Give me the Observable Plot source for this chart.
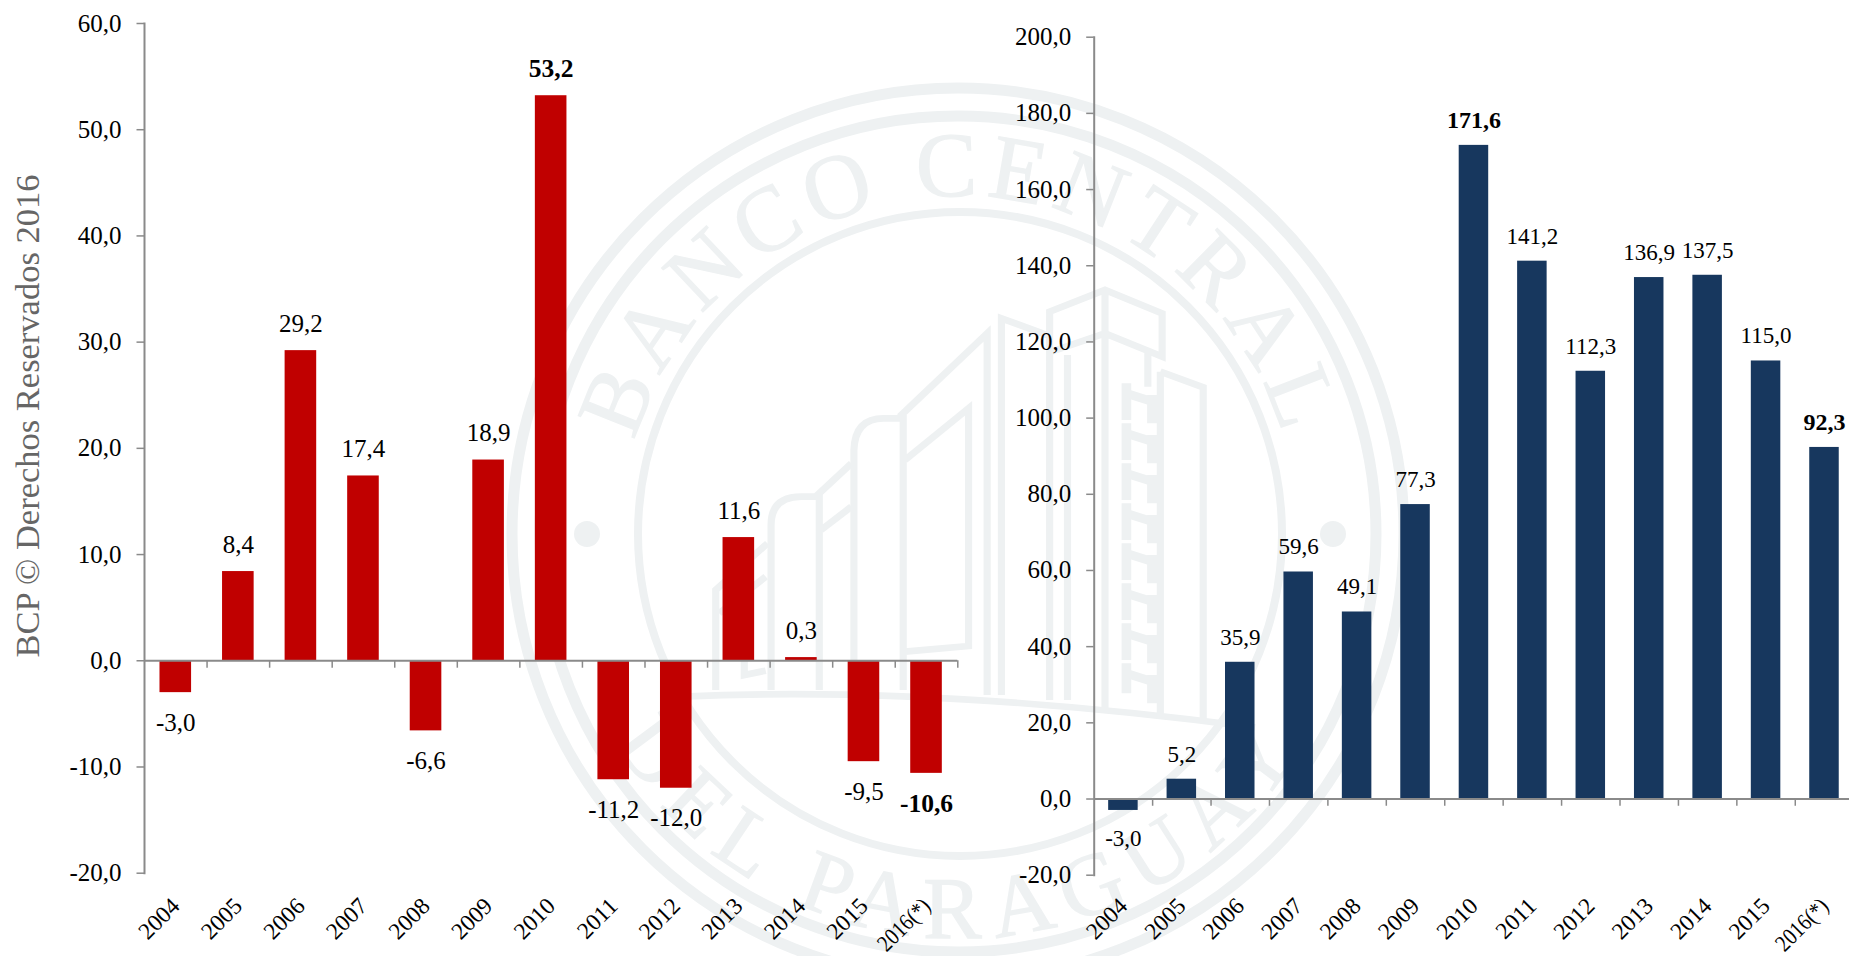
<!DOCTYPE html>
<html><head><meta charset="utf-8">
<script src="https://cdn.jsdelivr.net/npm/d3@7"></script>
<script src="https://cdn.jsdelivr.net/npm/@observablehq/plot@0.6"></script>
<style>
html,body{margin:0;padding:0;background:#fff;overflow:hidden}
#stage{position:relative;width:1849px;height:956px;overflow:hidden;font-family:"Liberation Serif",serif}
#stage svg{position:absolute;top:0}
#credit{position:absolute;left:27px;top:416px;transform:translate(-50%,-50%) rotate(-90deg);white-space:nowrap;font-size:34.5px;color:#666}
</style></head><body>
<div id="stage">
<svg id="seal" width="1849" height="956" style="left:0">
  <defs>
    <path id="arcTop" d="M 622 534 A 338 338 0 0 1 1298 534"/>
    <path id="arcBot" d="M 556 534 A 404 404 0 0 0 1364 534"/>
  </defs>
  <g fill="none" stroke="#eef1f2">
    <circle cx="958" cy="534" r="446" stroke-width="11"/>
    <circle cx="958" cy="534" r="418" stroke-width="11"/>
    <circle cx="960" cy="534" r="322" stroke-width="8"/>
  </g>
  <g fill="#eef1f2">
    <circle cx="587" cy="534" r="13"/><circle cx="1333" cy="534" r="13"/>
    <g stroke="#eef1f2" stroke-width="1.2">
      <text font-size="92" letter-spacing="8" text-anchor="middle"><textPath href="#arcTop" startOffset="50%">BANCO CENTRAL</textPath></text>
      <text font-size="88" letter-spacing="14" text-anchor="middle"><textPath href="#arcBot" startOffset="50%">DEL PARAGUAY</textPath></text>
    </g>
  </g>
  <g id="bld" transform="translate(680,280) scale(0.35714,0.33333)" fill="none" stroke="#eef1f2" stroke-width="20">
    <path d="M6 1250 Q700 1215 1610 1342"/>
    <path d="M100 1230V930L245 790M110 1000L240 890M180 1135V1185L240 1172"/>
    <path d="M255 1230V735Q255 650 340 650H390V1230M380 650L480 550M395 750L480 680"/>
    <path d="M487 1230V510Q490 415 570 415H625V1230M615 410L860 160V1245M630 540L808 385V1098L630 1115"/>
    <path d="M900 1245V115L1040 170M1035 1260V95L1190 30L1350 100V230L1190 160L1040 215M1085 225V1260M1190 30V1290M1310 215V320"/>
    <path d="M1345 275L1465 322V1320M1345 275V1310"/>
    <path stroke-width="27" stroke-dasharray="110 10" d="M1250 310V1240"/>
    <path stroke-width="30" stroke-dasharray="85 35" d="M1323 345V1290"/>
    <path stroke-width="26" d="M1250 340L1323 365M1250 460L1323 485M1250 580L1323 605M1250 700L1323 725M1250 820L1323 845M1250 940L1323 965M1250 1060L1323 1085M1250 1180L1323 1205"/>
  </g>
</svg>
<div id="credit">BCP © Derechos Reservados 2016</div>
</div>
<script>
const years = ["2004","2005","2006","2007","2008","2009","2010","2011","2012","2013","2014","2015","2016(*)"];
const leftValues = [-3.0,8.4,29.2,17.4,-6.6,18.9,53.2,-11.2,-12.0,11.6,0.3,-9.5,-10.6];
const rightValues = [-3.0,5.2,35.9,59.6,49.1,77.3,171.6,141.2,112.3,136.9,137.5,115.0,92.3];
const leftTicks = [-20,-10,0,10,20,30,40,50,60];
const rightTicks = [-20,0,20,40,60,80,100,120,140,160,180,200];
const leftBold = ["2010","2016(*)"];
const rightBold = ["2010","2016(*)"];

const AXIS = "#8a8a8a";
const fmt = d => d.toFixed(1).replace(".", ",");

function chart({values, ticks, bold, color, domain, left, width, marginLeft, xEnd, top, bottom,
                labelSize, boldSize, labelAbove, labelBelow, tickData, xDy}) {
  const rows = years.map((y, i) => ({y, v: values[i]}));
  const step = (xEnd - marginLeft) / years.length;
  const labelOpts = {
    x: "y", y: "v", text: d => fmt(d.v), fill: "#000",
    textAnchor: "middle", lineAnchor: "middle"
  };
  const labelMark = (filter, weight, fontSize) => [
    Plot.text(rows.filter(d => d.v >= 0 && filter(d)), {...labelOpts, dy: -labelAbove, fontWeight: weight, fontSize}),
    Plot.text(rows.filter(d => d.v < 0 && filter(d)), {...labelOpts, dy: labelBelow, fontWeight: weight, fontSize})
  ];
  const svg = Plot.plot({
    width, height: 956, marginLeft, marginRight: width - Math.min(xEnd, width),
    marginTop: top, marginBottom: 956 - bottom,
    style: {background: "transparent", fontFamily: '"Liberation Serif", serif', maxWidth: "none", overflow: "hidden"},
    x: {type: "band", domain: years, range: [marginLeft, xEnd], round: false, paddingInner: 0.495, paddingOuter: 0.2475, label: null},
    y: {domain, label: null},
    marks: [
      Plot.barY(rows, {x: "y", y: "v", fill: color}),
      Plot.ruleY([0], {stroke: AXIS, strokeWidth: 2}),
      Plot.ruleX(years, {x: d => d, dx: step / 2, y1: 0, y2: tickData, stroke: AXIS, strokeWidth: 1.5}),
      Plot.frame({anchor: "left", stroke: AXIS, strokeWidth: 2}),
      Plot.axisY({ticks, tickFormat: fmt, tickSize: 7.5, tickPadding: 15.5, stroke: AXIS, strokeWidth: 1.5,
                  fill: "#000", fontSize: 25, label: null}),
      Plot.axisX({anchor: "bottom", tickSize: 0, tickPadding: xDy, tickRotate: -45, fill: "#000",
                  label: null, lineAnchor: "middle", textAnchor: "end", fontSize: 23.5}),
      ...labelMark(d => !bold.includes(d.y), "normal", labelSize),
      ...labelMark(d => bold.includes(d.y), "bold", boldSize)
    ]
  });
  svg.querySelectorAll("text").forEach(t => {
    if (t.textContent === years[years.length - 1]) {
      t.setAttribute("textLength", 64);
      t.setAttribute("lengthAdjust", "spacingAndGlyphs");
    }
  });
  svg.style.left = left + "px";
  document.getElementById("stage").appendChild(svg);
}

chart({values: leftValues, ticks: leftTicks, bold: leftBold, color: "#C00000", domain: [-20, 60],
       left: 0, width: 960, marginLeft: 144, xEnd: 957.3, top: 23, bottom: 872.7,
       labelSize: 25, boldSize: 25.5, labelAbove: 27, labelBelow: 30, tickData: -0.7, xDy: 29});
chart({values: rightValues, ticks: rightTicks, bold: rightBold, color: "#17375E", domain: [-20, 200],
       left: 960, width: 889, marginLeft: 133.7, xEnd: 893.2, top: 36.7, bottom: 874.7,
       labelSize: 23, boldSize: 24, labelAbove: 25, labelBelow: 28, tickData: -1.9, xDy: 27});
</script>
</body></html>
